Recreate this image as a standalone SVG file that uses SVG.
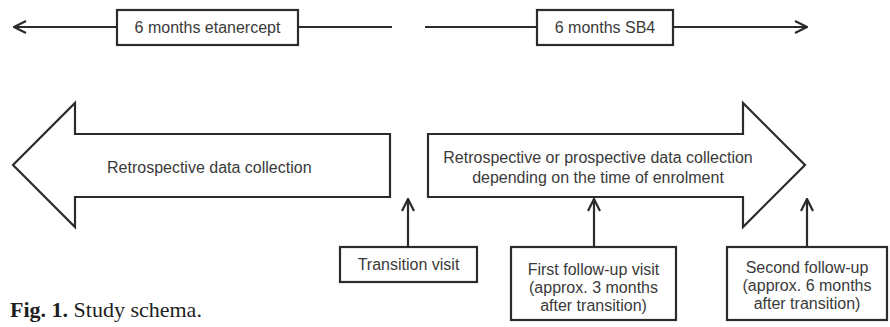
<svg xmlns="http://www.w3.org/2000/svg" width="890" height="327" viewBox="0 0 890 327">
<style>
.ln{stroke:#2b2b2b;stroke-width:2.2;fill:none}
.bx{stroke:#2b2b2b;stroke-width:2.2;fill:#fff}
.big{stroke:#2b2b2b;stroke-width:2.2;fill:#fff;stroke-linejoin:miter}
.t{font-family:"Liberation Sans",Arial,sans-serif;font-size:16px;fill:#3a3a3a;text-anchor:middle}
.cap{font-family:"Liberation Serif","Times New Roman",serif;font-size:22px;fill:#1e1e1e}
</style>
<defs>
<marker id="ah" viewBox="0 0 14 14" refX="13" refY="7" markerWidth="14" markerHeight="14" markerUnits="userSpaceOnUse" orient="auto-start-reverse">
<path d="M1,1 L13,7 L1,13" fill="none" stroke="#2b2b2b" stroke-width="2.2"/>
</marker>
</defs>
<rect width="890" height="327" fill="#fff"/>
<g id="connectors">
<line class="ln" x1="14" y1="27" x2="117" y2="27" marker-start="url(#ah)"/>
<line class="ln" x1="298" y1="27" x2="392" y2="27"/>
<line class="ln" x1="425" y1="27" x2="537" y2="27"/>
<line class="ln" x1="673" y1="27" x2="807" y2="27" marker-end="url(#ah)"/>
<line class="ln" x1="408" y1="247" x2="408" y2="199" marker-end="url(#ah)"/>
<line class="ln" x1="594" y1="247" x2="594" y2="199" marker-end="url(#ah)"/>
<line class="ln" x1="807" y1="247" x2="807" y2="199" marker-end="url(#ah)"/>
</g>
<g id="etanercept">
<rect class="bx" x="117" y="10" width="181" height="35"/>
<text class="t" x="207.5" y="33">6 months etanercept</text>
</g>
<g id="sb4">
<rect class="bx" x="537" y="10" width="136" height="35"/>
<text class="t" x="605" y="33">6 months SB4</text>
</g>
<g id="retro">
<polygon class="big" points="390,134 75,134 75,103 13,165 75,227 75,197 390,197"/>
<text class="t" x="107" y="173" style="text-anchor:start">Retrospective data collection</text>
</g>
<g id="prospective">
<polygon class="big" points="428,134 743,134 743,103 805,165 743,227 743,197 428,197"/>
<text class="t" x="598" y="163">Retrospective  or prospective data collection</text>
<text class="t" x="598" y="183">depending on the time of enrolment</text>
</g>
<g id="transition">
<rect class="bx" x="340" y="247" width="137" height="35"/>
<text class="t" x="408.5" y="270">Transition visit</text>
</g>
<g id="first">
<rect class="bx" x="511" y="247" width="165" height="73"/>
<text class="t" x="593.5" y="275">First follow-up visit</text>
<text class="t" x="593.5" y="293">(approx. 3 months</text>
<text class="t" x="593.5" y="311">after transition)</text>
</g>
<g id="second">
<rect class="bx" x="727" y="247" width="160" height="73"/>
<text class="t" x="807" y="273">Second follow-up</text>
<text class="t" x="807" y="291">(approx. 6 months</text>
<text class="t" x="807" y="309">after transition)</text>
</g>
<g id="caption">
<text class="cap" x="10" y="317"><tspan font-weight="bold">Fig. 1.</tspan> Study schema.</text>
</g>
</svg>
